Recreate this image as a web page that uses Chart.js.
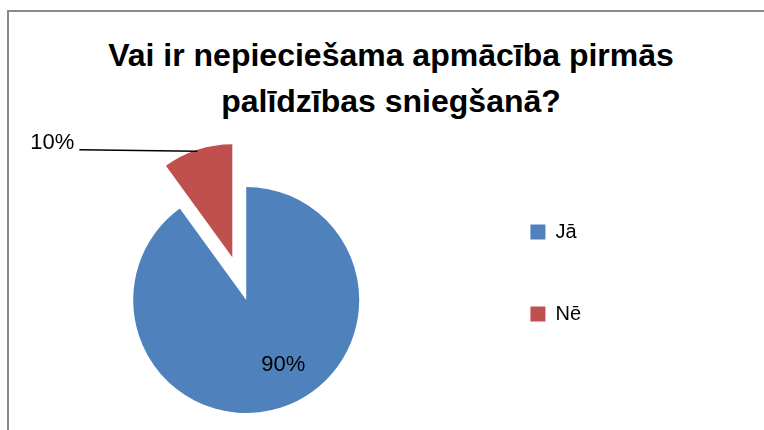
<!DOCTYPE html>
<html lang="lv">
<head>
<meta charset="utf-8">
<title>Apmācība pirmās palīdzības sniegšanā</title>
<script src="https://cdn.jsdelivr.net/npm/chart.js@4.4.1/dist/chart.umd.min.js"></script>
<style>
  html, body { margin: 0; padding: 0; background: #fff; overflow: hidden; }
  #wrap { position: relative; width: 764px; height: 430px; overflow: hidden; }
  #frame {
    position: absolute; left: 7px; top: 10px; width: 800px; height: 500px;
    border-left: 2px solid #898989; border-top: 2px solid #898989;
  }
  #title {
    position: absolute; left: 18px; right: 0; top: 32px;
    text-align: center; color: #000;
    font: bold 32px/46px "Liberation Sans", Arial, sans-serif;
  }
  #pie { position: absolute; left: 0; top: 0; }
</style>
</head>
<body>
<div id="wrap">
  <div id="frame"></div>
  <div id="title">Vai ir nepieciešama apmācība pirmās<br>palīdzības sniegšanā?</div>
  <!-- audekls ir 10px augstāks par logu, lai diagrammas laukuma centrs būtu y=300 -->
  <canvas id="pie" width="764" height="440"></canvas>
</div>
<script>
const kategorijas = ['Jā', 'Nē'];
const vertibas = [90, 10];
const krasas = ['#4F81BD', '#C0504D'];

// Chart.js izvirzītajam sektoram palielina rādiusu un sašaurina leņķi;
// šeit to atgriež atpakaļ un uzzīmē procentu uzrakstus
const procentuUzraksti = {
    id: 'procentuUzraksti',
    afterDatasetUpdate(chart, args) {
        args.meta.data.forEach(arc => {
            const o = (arc.options.offset || 0) / 4;
            if (!o) return;
            const fix = 1 - Math.sin(Math.min(Math.PI, arc.circumference || 0));
            const rOff = o * fix;
            arc.outerRadius -= rOff;
            const R = arc.outerRadius + rOff;
            const plus = rOff / Math.PI / R / 2;
            arc.startAngle -= plus;
            arc.endAngle += plus;
        });
    },
    afterDatasetsDraw(chart, args, opts) {
        const meta = chart.getDatasetMeta(0);
        const kopa = vertibas.reduce((a, b) => a + b, 0);
        const ctx = chart.ctx;
        ctx.save();
        ctx.font = '22px "Liberation Sans", Arial, sans-serif';
        ctx.fillStyle = '#000';
        ctx.strokeStyle = '#000';
        meta.data.forEach((arc, i) => {
            const {x, y, startAngle, endAngle, outerRadius, circumference} =
                arc.getProps(['x', 'y', 'startAngle', 'endAngle', 'outerRadius', 'circumference'], true);
            const vidus = (startAngle + endAngle) / 2;
            const o = (arc.options.offset || 0) / 4;
            const fix = 1 - Math.sin(Math.min(Math.PI, circumference));
            const cx = x + Math.cos(vidus) * o;
            const cy = y + Math.sin(vidus) * o;
            const r = outerRadius + o * fix;
            const teksts = Math.round(vertibas[i] / kopa * 100) + '%';
            ctx.textBaseline = 'alphabetic';
            if (opts.vieta[i] === 'iekša') {
                const a = vidus + opts.lenkaNobide;
                const d = r * 0.65;
                ctx.textAlign = 'center';
                ctx.fillText(teksts, cx + Math.cos(a) * d, cy + Math.sin(a) * d + 8);
            } else {
                const px = cx + Math.cos(vidus) * r;
                const py = cy + Math.sin(vidus) * r;
                const gals = px - opts.liniksGarums;
                ctx.lineWidth = 1.5;
                ctx.beginPath();
                ctx.moveTo(px, py + 1.5);
                ctx.lineTo(gals, py);
                ctx.stroke();
                ctx.textAlign = 'right';
                ctx.fillText(teksts, gals - 5, py - 1);
            }
        });
        ctx.restore();
    }
};

new Chart(document.querySelector('#pie'), {
    type: 'pie',
    data: {
        labels: kategorijas,
        datasets: [{
            data: vertibas,
            backgroundColor: krasas,
            borderWidth: 0,
            offset: [0, 180]
        }]
    },
    options: {
        responsive: false,
        animation: false,
        events: [],
        radius: 113,
        layout: {
            padding: {left: 24, right: 173, top: 160, bottom: 0}
        },
        plugins: {
            title: {display: false},
            tooltip: {enabled: false},
            legend: {
                position: 'right',
                align: 'start',
                labels: {
                    boxWidth: 15,
                    boxHeight: 15,
                    padding: 62,
                    color: '#000',
                    font: {family: '"Liberation Sans", Arial, sans-serif', size: 20}
                }
            },
            procentuUzraksti: {
                vieta: ['iekša', 'ārā'],
                lenkaNobide: -0.216,
                liniksGarums: 118
            }
        }
    },
    plugins: [procentuUzraksti]
});
</script>
</body>
</html>
